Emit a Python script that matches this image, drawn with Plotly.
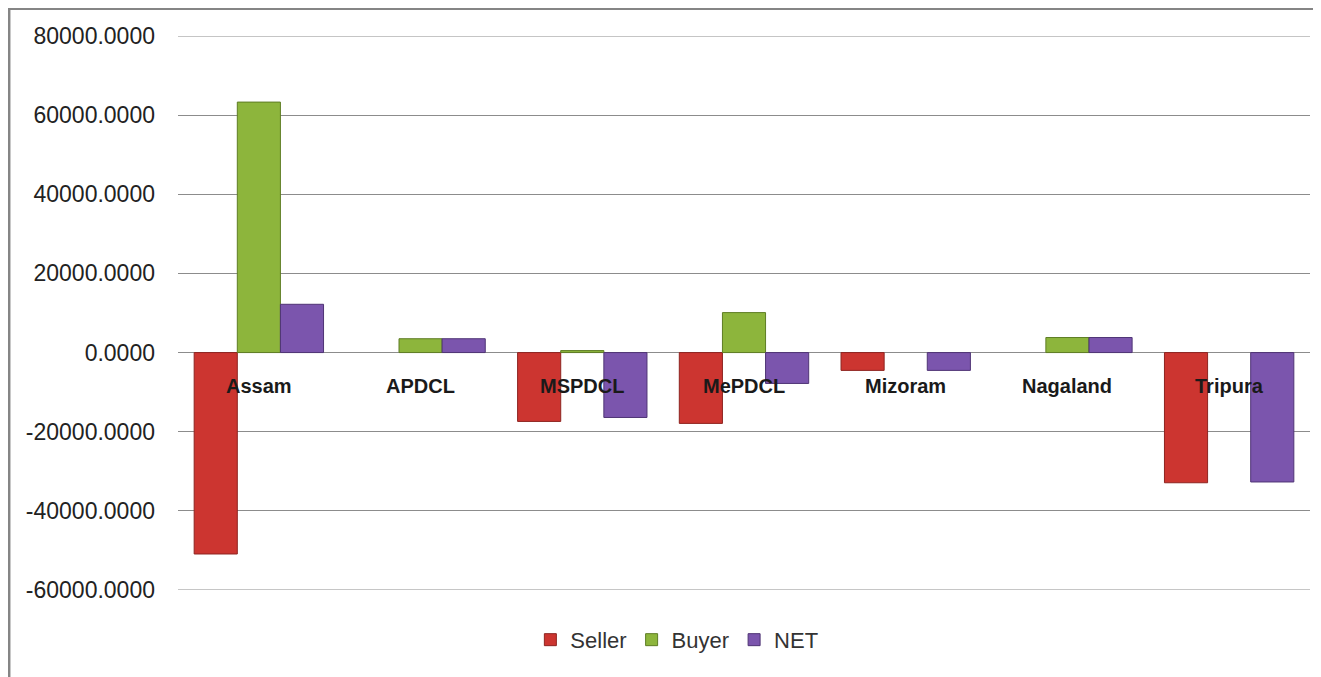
import plotly.graph_objects as go

categories = ["Assam", "APDCL", "MSPDCL", "MePDCL", "Mizoram", "Nagaland", "Tripura"]
seller = [-50900, 0, -17400, -17900, -4500, 0, -32900]
buyer = [63300, 3500, 500, 10100, 0, 3800, 0]
net = [12200, 3500, -16400, -7800, -4500, 3800, -32700]

tick_vals = [-60000, -40000, -20000, 0, 20000, 40000, 60000, 80000]
tick_text = ["-60000.0000", "-40000.0000", "-20000.0000", "0.0000",
             "20000.0000", "40000.0000", "60000.0000", "80000.0000"]

series = [
    ("Seller", seller, "#CC3530", "#8E2420"),
    ("Buyer", buyer, "#8DB53C", "#5E7D24"),
    ("NET", net, "#7B55AD", "#4F3475"),
]

fig = go.Figure()
for name, vals, col, edge in series:
    fig.add_trace(go.Bar(
        name=name, x=categories, y=vals,
        marker=dict(color=col, line=dict(color=edge, width=[0 if v == 0 else 1 for v in vals])),
    ))

for c in categories:
    fig.add_annotation(x=c, y=0, xref="x", yref="y", text="<b>%s</b>" % c,
                       showarrow=False, yshift=-33,
                       font=dict(family="Liberation Sans", size=20, color="#1a1a1a"))

# gridlines at the range ends (plotly omits them at the plot edge)
for v in (tick_vals[0], tick_vals[-1]):
    fig.add_shape(type="line", xref="paper", yref="y", x0=0, x1=1, y0=v, y1=v,
                  line=dict(color="#8c8c8c", width=1), layer="below")

# outer chart frame: only top and left edges are visible (page has an 8px body margin)
PX0, PW, PY0, PH = 170, 1132, 28, 554
def px(xp):
    return (xp - PX0) / PW
def py(yp):
    return (PY0 + PH - yp) / PH
fig.add_shape(type="line", xref="paper", yref="paper",
              x0=px(1), x1=px(1330), y0=py(0.8), y1=py(0.8),
              line=dict(color="#858585", width=2.5), layer="below")
fig.add_shape(type="line", xref="paper", yref="paper",
              x0=px(1.2), x1=px(1.2), y0=py(0), y1=py(700),
              line=dict(color="#858585", width=2.5), layer="below")

fig.update_layout(
    width=1313, height=669,
    margin=dict(l=170, r=11, t=28, b=87),
    paper_bgcolor="white", plot_bgcolor="white",
    barmode="group", bargap=0.2, bargroupgap=0,
    showlegend=True,
    legend=dict(orientation="h", x=0.4407, xanchor="center", y=-0.09, yanchor="middle",
                font=dict(family="Liberation Sans", size=22, color="#333333"),
                itemwidth=30, traceorder="normal"),
    font=dict(family="Liberation Sans"),
)
fig.update_xaxes(showticklabels=False, showgrid=False, zeroline=False, showline=False)
fig.update_yaxes(range=[-60000, 80000], tickvals=tick_vals, ticktext=tick_text,
                 showgrid=True, gridcolor="#8c8c8c", gridwidth=1,
                 zeroline=True, zerolinecolor="#8c8c8c", zerolinewidth=1,
                 showline=False, ticklabelstandoff=22,
                 tickfont=dict(family="Liberation Sans", size=23, color="#222222"))

fig.write_html("out.html")
